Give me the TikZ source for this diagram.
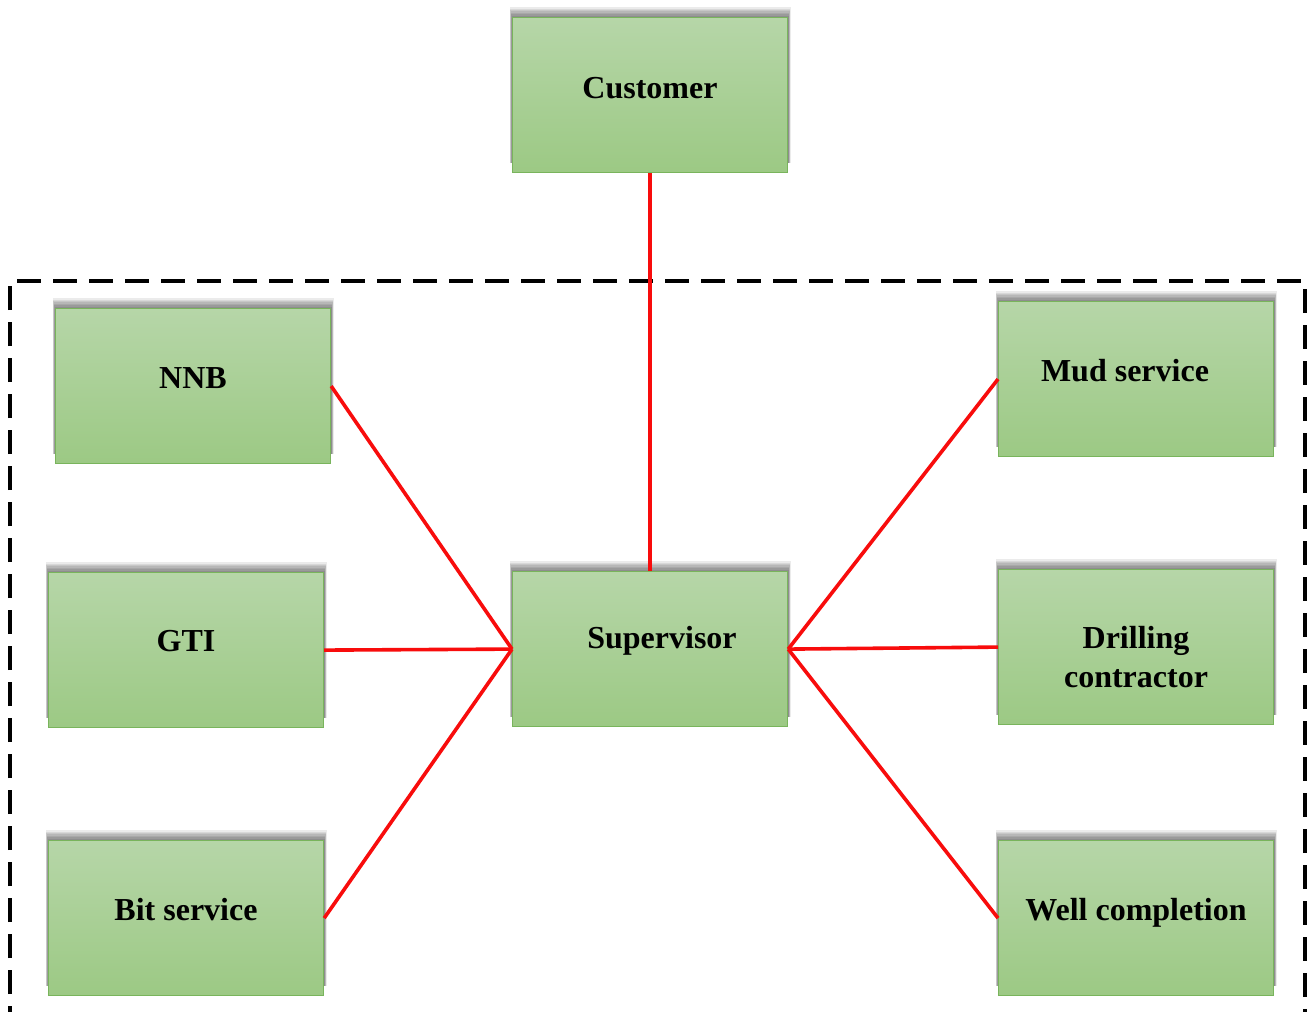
\documentclass[tikz,border=0pt]{standalone}
\usepackage{fontspec}
\setmainfont{Liberation Serif}
\usetikzlibrary{backgrounds}
\definecolor{boxtop}{HTML}{B6D6A8}
\definecolor{boxbottom}{HTML}{9CC984}
\definecolor{boxedge}{HTML}{79B45C}
\definecolor{linkred}{HTML}{F80C0C}
\tikzset{
  unit/.style={draw=boxedge, line width=1.2pt, top color=boxtop, bottom color=boxbottom,
    minimum width=275pt, minimum height=155pt, inner sep=0pt, anchor=north west},
  caption/.style={font=\bfseries\fontsize{32}{39}\selectfont, anchor=base, inner sep=0pt, align=center},
  link/.style={draw=linkred, line width=3.6pt},
  frame/.style={draw=black, line width=3.4pt, dash pattern=on 24pt off 12pt},
  haze/.style={fill=black, fill opacity=0.08}
}
\begin{document}
\begin{tikzpicture}[x=1pt, y=-1pt]
  \useasboundingbox (0,0) rectangle (1315,1012);
  \clip (0,0) rectangle (1315,1012);
  \begin{scope}[on background layer]
    \fill[white] (0,0) rectangle (1315,1012);
  \end{scope}

  % enclosing group, open towards the bottom edge
  \draw[frame] (10,1030) -- (10,281) -- (1305,281) -- (1305,1030);

  % boxes
  \node[unit] (customer) at (512,17) {};
  \node[unit] (nnb) at (55,308) {};
  \node[unit] (gti) at (48,572) {};
  \node[unit] (bit) at (48,840) {};
  \node[unit] (supervisor) at (512,571) {};
  \node[unit] (mud) at (998,301) {};
  \node[unit] (drilling) at (998,569) {};
  \node[unit] (well) at (998,840) {};

  % soft shadow along the top edge of every box
  \begin{scope}[on background layer]
    \foreach \n in {customer,nnb,gti,bit,supervisor,mud,drilling,well}
      \foreach \i in {1,...,7}
        \fill[haze] ([xshift=-0.35*\i pt, yshift=1.4*\i pt]\n.north west)
          rectangle ([xshift=0.35*\i pt, yshift=10pt]\n.south east);
  \end{scope}

  % captions
  \node[caption] (customer-t) at (650,98) {Customer};
  \node[caption] (nnb-t) at (193,388) {NNB};
  \node[caption] (gti-t) at (186,651) {GTI};
  \node[caption] (bit-t) at (186,920) {Bit service};
  \node[caption] (supervisor-t) at (662,648) {Supervisor};
  \node[caption] (mud-t) at (1125,381) {Mud service};
  \node[caption] (drilling-t) at (1136,687) {Drilling\\contractor};
  \node[caption] (well-t) at (1136,920) {Well completion};

  % connections
  \draw[link] (customer.south) -- (supervisor.north);
  \draw[link] (nnb.east) -- (supervisor.west);
  \draw[link] (gti.east) -- (supervisor.west);
  \draw[link] (bit.east) -- (supervisor.west);
  \draw[link] (supervisor.east) -- (mud.west);
  \draw[link] (supervisor.east) -- (drilling.west);
  \draw[link] (supervisor.east) -- (well.west);
\end{tikzpicture}
\end{document}
